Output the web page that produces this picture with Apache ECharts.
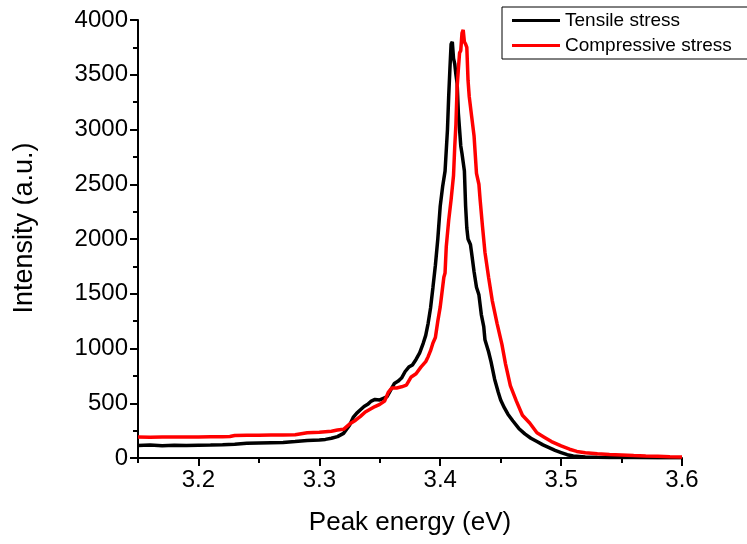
<!DOCTYPE html>
<html>
<head>
<meta charset="utf-8">
<script src="https://cdn.jsdelivr.net/npm/echarts@6/dist/echarts.min.js"></script>
<style>
html,body{margin:0;padding:0;background:#fff;}
#chart{width:747px;height:544px;}
</style>
</head>
<body>
<div id="chart"></div>
<script>
// ---- data ----
var tensileEnergy = [3.150,3.160,3.170,3.180,3.190,3.200,3.210,3.220,3.230,3.240,3.250,3.260,3.270,3.280,3.290,3.300,3.305,3.310,3.315,3.320,3.325,3.328,3.331,3.334,3.337,3.340,3.343,3.346,3.350,3.353,3.356,3.359,3.362,3.365,3.368,3.371,3.374,3.377,3.380,3.383,3.386,3.388,3.390,3.392,3.394,3.396,3.398,3.400,3.402,3.404,3.406,3.407,3.408,3.409,3.410,3.411,3.412,3.413,3.414,3.415,3.416,3.417,3.418,3.419,3.420,3.421,3.422,3.423,3.425,3.426,3.428,3.430,3.432,3.434,3.436,3.437,3.440,3.442,3.445,3.448,3.450,3.453,3.456,3.460,3.465,3.470,3.475,3.480,3.485,3.490,3.495,3.500,3.505,3.510,3.520,3.530,3.540,3.560,3.580,3.600];
var tensileIntensity = [115,118,112,116,114,117,118,120,126,134,137,139,141,150,160,165,170,180,195,225,300,370,410,440,470,490,520,535,530,545,560,620,680,700,730,790,830,850,900,960,1050,1120,1230,1370,1560,1760,2000,2300,2480,2620,3000,3300,3550,3780,3800,3650,3600,3500,3420,3150,3000,2850,2780,2700,2620,2300,2100,2000,1950,1870,1700,1560,1490,1310,1200,1080,970,880,720,600,530,460,400,340,270,220,180,150,120,95,70,50,30,18,10,6,5,4,3,3];

var compEnergy = [3.150,3.160,3.170,3.180,3.190,3.200,3.210,3.220,3.226,3.230,3.240,3.250,3.260,3.270,3.280,3.290,3.300,3.310,3.315,3.320,3.325,3.330,3.334,3.338,3.342,3.346,3.350,3.354,3.357,3.360,3.364,3.368,3.372,3.376,3.380,3.384,3.388,3.390,3.392,3.394,3.396,3.398,3.400,3.401,3.403,3.404,3.405,3.407,3.409,3.411,3.412,3.413,3.414,3.415,3.416,3.417,3.418,3.419,3.420,3.421,3.422,3.423,3.424,3.426,3.428,3.430,3.432,3.433,3.435,3.437,3.440,3.443,3.447,3.451,3.454,3.458,3.463,3.468,3.474,3.480,3.486,3.492,3.500,3.507,3.513,3.520,3.530,3.540,3.550,3.560,3.570,3.580,3.590,3.600];
var compIntensity = [191,190,192,191,192,192,193,194,196,206,208,207,210,209,213,230,235,245,255,262,310,345,380,420,445,470,490,520,600,640,640,650,665,740,770,830,880,925,980,1050,1100,1250,1380,1470,1650,1690,1930,2170,2360,2580,2840,3050,3390,3550,3700,3720,3880,3910,3800,3780,3750,3450,3300,3120,2940,2600,2500,2360,2110,1880,1650,1440,1230,1040,860,660,520,390,320,230,190,150,110,80,60,48,38,32,28,22,18,16,12,10];

var xMajorTicks = [3.2, 3.3, 3.4, 3.5, 3.6];
var xMinorTicks = [3.15, 3.25, 3.35, 3.45, 3.55];
var seriesNames = ['Tensile stress', 'Compressive stress'];

function pairs(xs, ys) {
  var out = [];
  for (var i = 0; i < xs.length; i++) out.push([xs[i], ys[i]]);
  return out;
}

var FONT = 'Liberation Sans, Arial, sans-serif';
var chart = echarts.init(document.getElementById('chart'), null, {renderer: 'canvas'});
var axisLine = {show: true, lineStyle: {color: '#000', width: 2}};

chart.setOption({
  animation: false,
  backgroundColor: '#fff',
  grid: {left: 138, right: 65, top: 20, bottom: 86, containLabel: false},
  legend: {
    orient: 'vertical',
    left: 502, top: 7,
    padding: [4, 20, 4, 10],
    itemGap: 6,
    itemWidth: 48, itemHeight: 3,
    icon: 'rect',
    borderColor: '#000', borderWidth: 1,
    textStyle: {fontFamily: FONT, fontSize: 19, color: '#000'},
    data: seriesNames
  },
  xAxis: [{
    type: 'value', min: 3.15, max: 3.6, position: 'bottom',
    name: 'Peak energy (eV)', nameLocation: 'middle', nameGap: 52,
    nameTextStyle: {fontFamily: FONT, fontSize: 26, color: '#000'},
    axisLine: axisLine,
    axisTick: {show: true, inside: false, length: 8, lineStyle: {color: '#000', width: 2}, customValues: xMajorTicks},
    axisLabel: {show: true, fontFamily: FONT, fontSize: 24, color: '#000', margin: 10, customValues: xMajorTicks,
      formatter: function (v) { return v.toFixed(1); }},
    splitLine: {show: false}
  }, {
    type: 'value', min: 3.15, max: 3.6, position: 'bottom',
    axisLine: {show: false},
    axisTick: {show: true, inside: false, length: 5, lineStyle: {color: '#000', width: 2}, customValues: xMinorTicks},
    axisLabel: {show: false},
    splitLine: {show: false}
  }],
  yAxis: {
    type: 'value', min: 0, max: 4000, interval: 500,
    name: 'Intensity (a.u.)', nameLocation: 'middle', nameGap: 100,
    nameTextStyle: {fontFamily: FONT, fontSize: 27, color: '#000', padding: [0, 0, 0, 22]},
    axisLine: axisLine,
    axisTick: {show: true, inside: false, length: 8, lineStyle: {color: '#000', width: 2}},
    minorTick: {show: true, splitNumber: 2, length: 5, lineStyle: {color: '#000', width: 2}},
    axisLabel: {fontFamily: FONT, fontSize: 24, color: '#000', margin: 10,
      formatter: function (v) { return String(v); }},
    splitLine: {show: false}
  },
  series: [{
    name: seriesNames[0], type: 'line', xAxisIndex: 0,
    data: pairs(tensileEnergy, tensileIntensity),
    showSymbol: false, symbol: 'none',
    lineStyle: {color: '#000', width: 3.5},
    itemStyle: {color: '#000'}
  }, {
    name: seriesNames[1], type: 'line', xAxisIndex: 0,
    data: pairs(compEnergy, compIntensity),
    showSymbol: false, symbol: 'none',
    lineStyle: {color: '#ff0000', width: 3.5},
    itemStyle: {color: '#ff0000'}
  }]
});
</script>
</body>
</html>
